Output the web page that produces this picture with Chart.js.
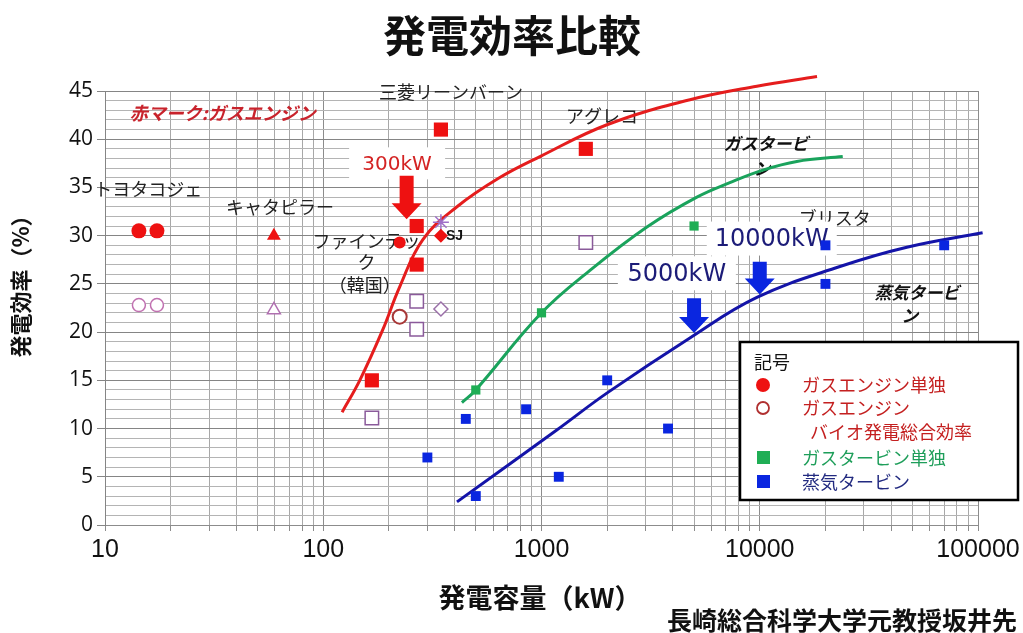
<!DOCTYPE html>
<html>
<head>
<meta charset="utf-8">
<script src="https://cdn.jsdelivr.net/npm/chart.js@4.4.1/dist/chart.umd.min.js"></script>
<style>
  body { margin: 0; background: #fff; }
  #wrap { width: 1023px; height: 633px; }
</style>
</head>
<body>
<div id="wrap"><canvas id="myChart"></canvas></div>
<script>
var ctx = document.getElementById("myChart").getContext('2d');

// x = 発電容量 (kW), y = 発電効率 (%)
var engineX = [14.3, 17.3];
var engineY = [30.5, 30.5];
var caterpillarX = [59.4];
var caterpillarY = [30];
var engineSquareX = [346, 1596, 268, 268, 167];
var engineSquareY = [41, 39, 31, 27, 15];
var finetecX = [224];
var finetecY = [29.3];
var sjX = [346];
var sjY = [30];
var starX = [346];
var starY = [31.4];

// バイオ発電総合効率 (hollow)
var bioCircleX = [14.3, 17.3];
var bioCircleY = [22.8, 22.8];
var bioFinetecX = [224];
var bioFinetecY = [21.6];
var bioTriangleX = [59.4];
var bioTriangleY = [22.3];
var bioSquareX = [268, 268, 167, 1596];
var bioSquareY = [23.2, 20.3, 11.1, 29.3];
var bioDiamondX = [346];
var bioDiamondY = [22.4];

var gasTurbineX = [500, 1000, 5000];
var gasTurbineY = [14, 22, 31];

var steamX = [300, 450, 500, 850, 1200, 2000, 3800, 20000, 20000, 70000];
var steamY = [7, 11, 3, 12, 5, 15, 10, 29, 25, 29];

// trend curves
var engineCurveX = [122, 147, 187, 224, 286, 410, 641, 984, 1995, 4790, 9700, 18300];
var engineCurveY = [11.7, 15, 20.2, 24.7, 29.6, 33, 36.0, 38.2, 41.5, 44.1, 45.5, 46.5];
var turbineCurveX = [432, 495, 1000, 1667, 3041, 5152, 7295, 10330, 14790, 24000];
var turbineCurveY = [12.7, 13.9, 22, 26.4, 30.9, 34.0, 35.5, 36.8, 37.7, 38.2];
var steamCurveX = [410, 1175, 2000, 4785, 9700, 23300, 47200, 105000];
var steamCurveY = [2.4, 9.85, 13.7, 19.4, 23.6, 26.8, 28.8, 30.3];

var xTicks = [10, 100, 1000, 10000, 100000];

var RED = '#ee1111';
var GREEN = '#1fae55';
var BLUE = '#0a26e0';
var JP = '"Noto Sans CJK JP", sans-serif';

function pts(xs, ys) {
    return xs.map(function (x, i) { return { x: x, y: ys[i] }; });
}

function markers(label, xs, ys, style, radius, fill, stroke, width) {
    return {
        label: label, data: pts(xs, ys), pointStyle: style,
        pointRadius: radius, pointHoverRadius: radius,
        backgroundColor: fill, borderColor: stroke, pointBorderWidth: width,
        showLine: false, order: 1
    };
}

function curve(label, xs, ys, color) {
    return {
        label: label, data: pts(xs, ys), showLine: true, fill: false,
        borderColor: color, backgroundColor: color, borderWidth: 3,
        pointRadius: 0, tension: 0.4, clip: false, order: 2
    };
}

// texts placed in data units (kW, %)
var notes = [
    { t: '赤マーク:ガスエンジン', x: 13, y: 42.7, a: 'left', f: 'italic bold 18px ' + JP, c: '#c8232c' },
    { t: '三菱リーンバーン', x: 385, y: 44.9, f: '18px ' + JP, c: '#222' },
    { t: 'トヨタコジェ', x: 15.8, y: 34.8, f: '18px ' + JP, c: '#222' },
    { t: 'キャタピラー', x: 63.4, y: 33.0, f: '18px ' + JP, c: '#222' },
    { t: 'ファインテッ', x: 158, y: 29.4, f: '18px ' + JP, c: '#222' },
    { t: 'ク', x: 158, y: 27.3, f: '18px ' + JP, c: '#222' },
    { t: '（韓国）', x: 155, y: 24.9, f: '18px ' + JP, c: '#222' },
    { t: 'SJ', x: 365, y: 29.9, a: 'left', f: 'bold 14px "Liberation Sans", sans-serif', c: '#111' },
    { t: 'アグレコ', x: 1893, y: 42.4, f: '18px ' + JP, c: '#222' },
    { t: 'ガスタービ', x: 10670, y: 39.6, f: 'italic bold 17px ' + JP, c: '#111' },
    { t: 'ン', x: 10240, y: 37.0, f: 'italic bold 17px ' + JP, c: '#111' },
    { t: 'ブリスタ', x: 22080, y: 31.8, f: '18px ' + JP, c: '#222' },
    { t: '蒸気タービ', x: 52500, y: 24.1, f: 'italic bold 17px ' + JP, c: '#111' },
    { t: 'ン', x: 48700, y: 21.7, f: 'italic bold 17px ' + JP, c: '#111' }
];

var boxes = [
    { t: '300kW', x: 218, y: 37.5, w: 96, h: 32, s: 20, c: '#d42424' },
    { t: '10000kW', x: 11350, y: 29.7, w: 130, h: 34, s: 24, c: '#1c1c78' },
    { t: '5000kW', x: 4170, y: 26.1, w: 118, h: 34, s: 24, c: '#1c1c78' }
];

var arrows = [
    { x: 241, y0: 36.2, y1: 31.7, c: RED },
    { x: 10000, y0: 27.3, y1: 23.9, c: BLUE },
    { x: 5000, y0: 23.5, y1: 19.9, c: BLUE }
];

var extras = {
    id: 'extras',
    beforeDatasetsDraw: function (chart) {
        var c = chart.ctx, sx = chart.scales.x, sy = chart.scales.y;
        c.save();
        c.textBaseline = 'middle';
        notes.forEach(function (n) {
            c.font = n.f;
            c.fillStyle = n.c;
            c.textAlign = n.a || 'center';
            c.fillText(n.t, sx.getPixelForValue(n.x), sy.getPixelForValue(n.y));
        });
        boxes.forEach(function (b) {
            var px = sx.getPixelForValue(b.x), py = sy.getPixelForValue(b.y);
            c.fillStyle = '#fff';
            c.fillRect(px - b.w / 2, py - b.h / 2, b.w, b.h);
            c.font = b.s + 'px "DejaVu Sans", sans-serif';
            c.fillStyle = b.c;
            c.textAlign = 'center';
            c.fillText(b.t, px, py + 1);
        });
        c.restore();
    },
    afterDatasetsDraw: function (chart) {
        var c = chart.ctx, sx = chart.scales.x, sy = chart.scales.y;
        c.save();
        arrows.forEach(function (a) {
            var px = sx.getPixelForValue(a.x), t = sy.getPixelForValue(a.y0), b = sy.getPixelForValue(a.y1);
            var head = 16;
            c.fillStyle = a.c;
            c.beginPath();
            c.moveTo(px - 7, t);
            c.lineTo(px + 7, t);
            c.lineTo(px + 7, b - head);
            c.lineTo(px + 15, b - head);
            c.lineTo(px, b);
            c.lineTo(px - 15, b - head);
            c.lineTo(px - 7, b - head);
            c.closePath();
            c.fill();
        });

        // legend box
        c.fillStyle = '#fff';
        c.fillRect(740, 342, 278, 158);
        c.strokeStyle = '#000';
        c.lineWidth = 2.5;
        c.strokeRect(740, 342, 278, 158);
        c.textBaseline = 'middle';
        c.textAlign = 'left';
        c.font = '18px ' + JP;
        c.fillStyle = '#111';
        c.fillText('記号', 754, 362);

        c.fillStyle = RED;
        c.beginPath(); c.arc(763, 385, 7, 0, Math.PI * 2); c.fill();
        c.fillStyle = '#c42020';
        c.fillText('ガスエンジン単独', 802, 385);

        c.strokeStyle = '#b03030';
        c.lineWidth = 1.8;
        c.beginPath(); c.arc(763, 408, 6, 0, Math.PI * 2); c.stroke();
        c.fillText('ガスエンジン', 802, 408);
        c.fillText('バイオ発電総合効率', 810, 432);

        c.fillStyle = GREEN;
        c.fillRect(757, 451, 13, 13);
        c.fillStyle = '#1e9e5a';
        c.fillText('ガスタービン単独', 802, 458);

        c.fillStyle = BLUE;
        c.fillRect(757, 475, 13, 13);
        c.fillStyle = '#222a80';
        c.fillText('蒸気タービン', 802, 482);
        c.restore();
    },
    afterDraw: function (chart) {
        var c = chart.ctx;
        c.save();
        c.fillStyle = '#111';
        c.textBaseline = 'middle';
        c.textAlign = 'center';
        c.font = 'bold 43px ' + JP;
        c.fillText('発電効率比較', 512, 36);
        c.font = 'bold 27px ' + JP;
        c.fillText('発電容量（kW）', 540, 598);
        c.font = 'bold 25px ' + JP;
        c.textAlign = 'right';
        c.fillText('長崎総合科学大学元教授坂井先', 1017, 620);
        c.translate(21, 281);
        c.rotate(-Math.PI / 2);
        c.textAlign = 'center';
        c.font = 'bold 22px ' + JP;
        c.fillText('発電効率（%）', 0, 0);
        c.restore();
    }
};

new Chart(ctx, {
    type: 'scatter',
    data: {
        datasets: [
            markers('ガスエンジン単独', engineX, engineY, 'circle', 7.5, RED, RED, 0),
            markers('キャタピラー', caterpillarX, caterpillarY, 'triangle', 8, RED, RED, 0),
            markers('ガスエンジン', engineSquareX, engineSquareY, 'rect', 10, RED, RED, 0),
            markers('ファインテック', finetecX, finetecY, 'circle', 6, RED, RED, 0),
            markers('SJ', sjX, sjY, 'rectRot', 7, RED, RED, 0),
            markers('SJ bio', starX, starY, 'star', 8, 'rgba(0,0,0,0)', '#a070c8', 1.5),
            markers('バイオ発電総合効率', bioCircleX, bioCircleY, 'circle', 6.5, '#fff', '#c070b0', 1.5),
            markers('ファインテック bio', bioFinetecX, bioFinetecY, 'circle', 7, '#fff', '#a83838', 2),
            markers('キャタピラー bio', bioTriangleX, bioTriangleY, 'triangle', 7.5, '#fff', '#b070b0', 1.5),
            markers('bio square', bioSquareX, bioSquareY, 'rect', 9.5, '#fff', '#8a5a9a', 1.5),
            markers('SJ bio diamond', bioDiamondX, bioDiamondY, 'rectRot', 7, '#fff', '#9a70a8', 1.5),
            markers('ガスタービン単独', gasTurbineX, gasTurbineY, 'rect', 6.5, GREEN, GREEN, 0),
            markers('蒸気タービン', steamX, steamY, 'rect', 7, BLUE, BLUE, 0),
            curve('engine trend', engineCurveX, engineCurveY, '#e51d1d'),
            curve('turbine trend', turbineCurveX, turbineCurveY, '#1aa35c'),
            curve('steam trend', steamCurveX, steamCurveY, '#1414a8')
        ]
    },
    options: {
        responsive: true,
        maintainAspectRatio: false,
        animation: false,
        events: [],
        layout: { padding: { top: 91, right: 45, left: 0, bottom: 0 } },
        plugins: { legend: { display: false }, tooltip: { enabled: false }, title: { display: false } },
        scales: {
            x: {
                type: 'logarithmic',
                min: 10,
                max: 100000,
                afterFit: function (s) { s.height = 108; s.paddingLeft = 0; s.paddingRight = 0; },
                afterBuildTicks: function (s) {
                    var t = [];
                    for (var d = 10; d < 100000; d *= 10) {
                        for (var k = 1; k < 10; k++) t.push({ value: d * k });
                    }
                    t.push({ value: 100000 });
                    s.ticks = t;
                },
                ticks: {
                    autoSkip: false,
                    maxRotation: 0,
                    padding: 4,
                    color: '#111',
                    font: { family: '"Liberation Sans", sans-serif', size: 25 },
                    callback: function (v) { return xTicks.indexOf(v) >= 0 ? String(v) : ''; }
                },
                grid: {
                    color: function (c) { return xTicks.indexOf(c.tick && c.tick.value) >= 0 ? '#8c8c8c' : '#a8a8a8'; },
                    tickColor: '#8c8c8c',
                    tickLength: 6
                },
                border: { color: '#8c8c8c' }
            },
            y: {
                min: 0,
                max: 45,
                afterFit: function (s) { s.width = 105; },
                ticks: {
                    stepSize: 1,
                    autoSkip: false,
                    padding: 4,
                    color: '#111',
                    font: { family: '"Open Sans", sans-serif', size: 21 },
                    callback: function (v) { return v % 5 === 0 ? String(v) : ''; }
                },
                grid: {
                    color: function (c) { return c.tick && c.tick.value % 5 === 0 ? '#858585' : '#b4b4b4'; },
                    tickColor: function (c) { return c.tick && c.tick.value % 5 === 0 ? '#858585' : 'rgba(0,0,0,0)'; },
                    tickLength: 8
                },
                border: { color: '#858585' }
            }
        }
    },
    plugins: [extras]
});
</script>
</body>
</html>
